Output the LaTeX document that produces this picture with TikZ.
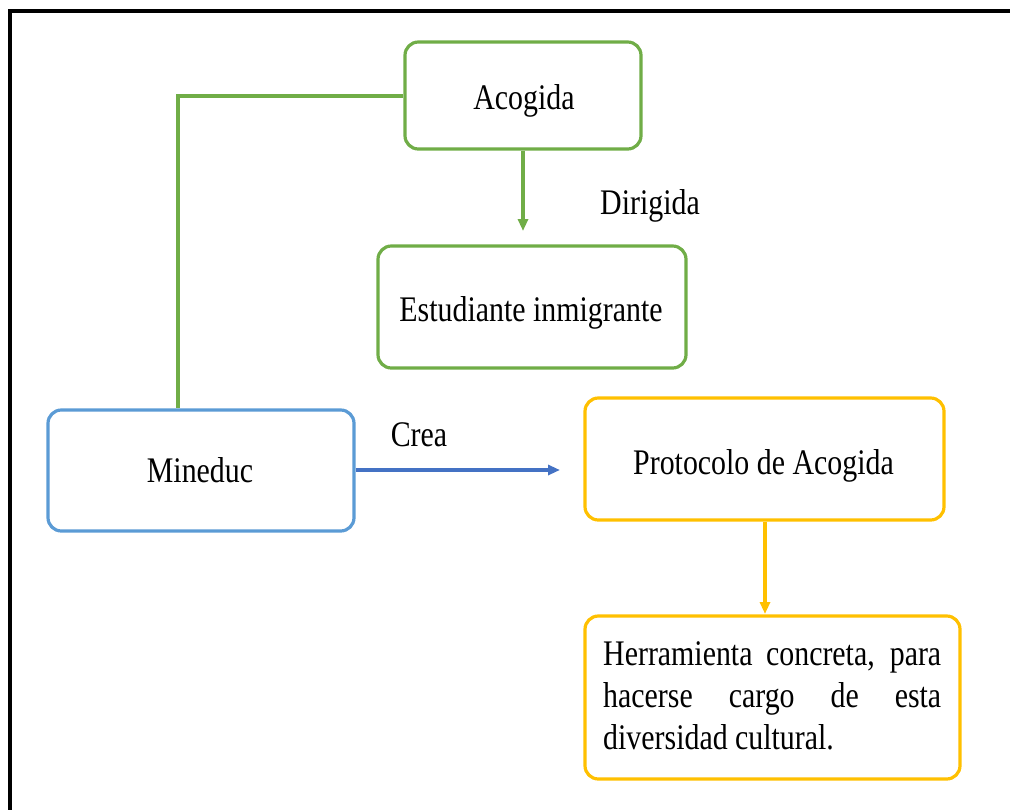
\documentclass[tikz,border=0pt]{standalone}
\usepackage{fontspec}
\setmainfont{Liberation Serif}
\usetikzlibrary{arrows.meta}
\definecolor{cgreen}{HTML}{70AD47}
\definecolor{cblue}{HTML}{5B9BD5}
\definecolor{cdblue}{HTML}{4472C4}
\definecolor{cgold}{HTML}{FFC000}
\begin{document}
\begin{tikzpicture}[x=0.75pt,y=-0.75pt,
  box/.style={draw=#1,line width=2.4pt,rounded corners=10pt,fill=white,inner sep=0pt},
  lbl/.style={font=\fontsize{27}{32}\selectfont,inner sep=0pt,xscale=0.83,anchor=base},
  llbl/.style={lbl,anchor=base west},
  arr/.style={line width=2.6pt,-{Triangle[length=9pt,width=7.5pt]}}]
\useasboundingbox (0,0) rectangle (1010,810);
\draw[line width=3pt] (10,815) -- (10,11) -- (1015,11);
% boxes
\node[box=cgreen,minimum width=236*0.75pt,minimum height=107*0.75pt] (acog) at (523,95.5) {};
\node[lbl] (tacog) at (524,109) {Acogida};
\node[box=cgreen,minimum width=308*0.75pt,minimum height=122*0.75pt] (estu) at (532,307) {};
\node[lbl] (testu) at (531,321) {Estudiante inmigrante};
\node[box=cblue,minimum width=306*0.75pt,minimum height=121*0.75pt] (mine) at (201,470.5) {};
\node[lbl] (tmine) at (200,482) {Mineduc};
\node[box=cgold,minimum width=359*0.75pt,minimum height=122*0.75pt] (prot) at (764.5,459) {};
\node[lbl] (tprot) at (763.5,474) {Protocolo de Acogida};
\node[box=cgold,minimum width=375*0.75pt,minimum height=163*0.75pt] (herr) at (772.5,697.5) {};
\node[llbl] (h1) at (603,665) {\makebox[305.4pt][s]{Herramienta concreta, para}};
\node[llbl] (h2) at (603,707) {\makebox[305.4pt][s]{hacerse cargo de esta}};
\node[llbl] (h3) at (603,749) {diversidad cultural.};
% connectors
\coordinate (c1) at (178,96);
\draw[cgreen,line width=2.6pt] (acog.west|-c1) -- (c1) -- (c1|-mine.north);
\coordinate (a1) at (523,231);
\draw[cgreen,arr] (acog.south) -- (a1);
\node[lbl] (dir) at (650,214) {Dirigida};
\coordinate (a2) at (560,470);
\draw[cdblue,arr] (mine.east|-a2) -- (a2);
\node[lbl] (crea) at (419,446) {Crea};
\coordinate (a3) at (765,614);
\draw[cgold,arr] (prot.south-|a3) -- (a3);
\end{tikzpicture}
\end{document}
